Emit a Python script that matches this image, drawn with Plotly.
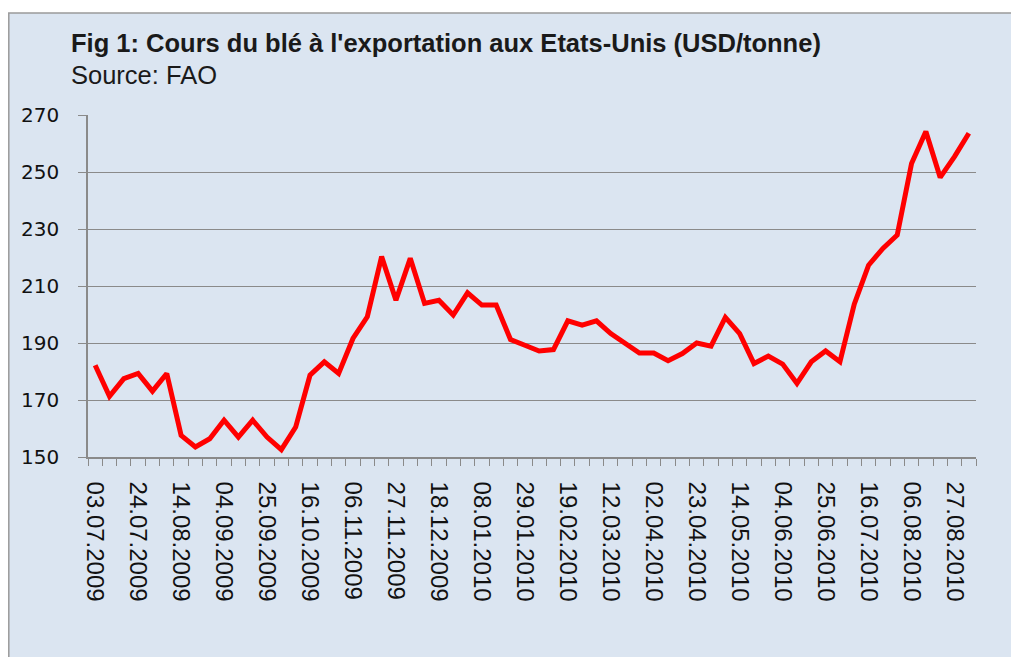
import plotly.graph_objects as go

# Weekly dates (categories)
dates = [
    "2009-07-03", "2009-07-10", "2009-07-17", "2009-07-24", "2009-07-31",
    "2009-08-07", "2009-08-14", "2009-08-21", "2009-08-28",
    "2009-09-04", "2009-09-11", "2009-09-18", "2009-09-25",
    "2009-10-02", "2009-10-09", "2009-10-16", "2009-10-23", "2009-10-30",
    "2009-11-06", "2009-11-13", "2009-11-20", "2009-11-27",
    "2009-12-04", "2009-12-11", "2009-12-18", "2009-12-25",
    "2010-01-01", "2010-01-08", "2010-01-15", "2010-01-22", "2010-01-29",
    "2010-02-05", "2010-02-12", "2010-02-19", "2010-02-26",
    "2010-03-05", "2010-03-12", "2010-03-19", "2010-03-26",
    "2010-04-02", "2010-04-09", "2010-04-16", "2010-04-23", "2010-04-30",
    "2010-05-07", "2010-05-14", "2010-05-21", "2010-05-28",
    "2010-06-04", "2010-06-11", "2010-06-18", "2010-06-25",
    "2010-07-02", "2010-07-09", "2010-07-16", "2010-07-23", "2010-07-30",
    "2010-08-06", "2010-08-13", "2010-08-20", "2010-08-27",
    "2010-09-03",
]

# Wheat export price, USD/tonne
prices = [
    182.2, 171.3, 177.5, 179.3, 173.1, 179.3, 157.6, 153.5, 156.4, 162.9,
    157.0, 162.9, 157.0, 152.6, 160.5, 178.7, 183.4, 179.3, 191.6, 199.2,
    220.3, 205.0, 219.7, 203.9, 205.0, 199.8, 207.6, 203.3, 203.3, 191.2,
    189.2, 187.2, 187.7, 197.8, 196.3, 197.8, 193.3, 190.0, 186.5, 186.5,
    183.8, 186.3, 190.0, 188.9, 199.0, 193.3, 182.8, 185.4, 182.6, 175.8,
    183.4, 187.2, 183.4, 203.6, 217.3, 223.2, 227.9, 253.0, 264.2, 248.1,
    255.4, 263.6,
]

# Tick labels every third week
tick_dates = dates[::3]
tick_labels = [d[8:10] + "." + d[5:7] + "." + d[0:4] for d in tick_dates]

y_ticks = [150, 170, 190, 210, 230, 250, 270]

title_text = "Fig 1: Cours du blé à l'exportation aux Etats-Unis (USD/tonne)"
source_text = "Source: FAO"

# page has an 8px body margin; figure coordinates = page - 8
W, H = 1011, 649
L, R, T, B = 80, 43, 107, 200
PW, PH = W - L - R, H - T - B
GRID = "#8a8a8a"
BG = "#DBE5F1"
WEEK_MS = 7 * 24 * 3600 * 1000


def px_x(x):
    return (x - L) / PW


def px_y(y):
    return 1 - (y - T) / PH


fig = go.Figure()
fig.add_trace(go.Scatter(
    x=dates, y=prices, mode="lines",
    line=dict(color="#FF0000", width=5),
    hoverinfo="x+y", showlegend=False,
))

fig.update_layout(
    width=W, height=H,
    paper_bgcolor="white",
    plot_bgcolor="white",
    margin=dict(l=L, r=R, t=T, b=B, pad=0),
    shapes=[dict(
        type="rect", xref="paper", yref="paper", layer="below",
        x0=px_x(0.8), x1=px_x(W + 20),
        y0=px_y(H + 20), y1=px_y(5),
        fillcolor=BG, line=dict(color="#9a9a9a", width=1.5),
    )],
    annotations=[
        dict(text="<b>" + title_text + "</b>", xref="paper", yref="paper",
             x=px_x(61), y=px_y(35),
             xanchor="left", yanchor="middle", showarrow=False,
             font=dict(family="Liberation Sans Narrow, Arial Narrow, sans-serif",
                       size=25.5, color="#1a1a1a")),
        dict(text=source_text, xref="paper", yref="paper",
             x=px_x(61), y=px_y(67),
             xanchor="left", yanchor="middle", showarrow=False,
             font=dict(family="Liberation Sans Narrow, Arial Narrow, sans-serif",
                       size=25.5, color="#1a1a1a")),
    ],
)

fig.update_xaxes(
    type="date",
    range=["2009-06-29 12:00", "2010-09-06 12:00"],
    tickvals=tick_dates, ticktext=tick_labels,
    tickangle=90,
    ticks="",
    ticklabelstandoff=18,
    tickfont=dict(family="Liberation Sans, Arial, sans-serif", size=24, color="#111111"),
    showgrid=False,
    showline=True, linecolor=GRID, linewidth=1.5,
    minor=dict(ticks="outside", ticklen=7, tickcolor=GRID, tickwidth=1,
               tick0="2009-06-29 12:00", dtick=WEEK_MS, showgrid=False),
    fixedrange=True,
)

fig.update_yaxes(
    range=[150, 270],
    tickvals=y_ticks,
    ticks="outside", ticklen=8, tickcolor=GRID, tickwidth=1,
    ticklabelstandoff=15,
    tickfont=dict(family="DejaVu Sans, Verdana, sans-serif", size=20, color="#111111"),
    showgrid=True, gridcolor=GRID, gridwidth=1.2,
    showline=True, linecolor=GRID, linewidth=1.5,
    zeroline=False,
    fixedrange=True,
)

fig.write_html("out.html")
